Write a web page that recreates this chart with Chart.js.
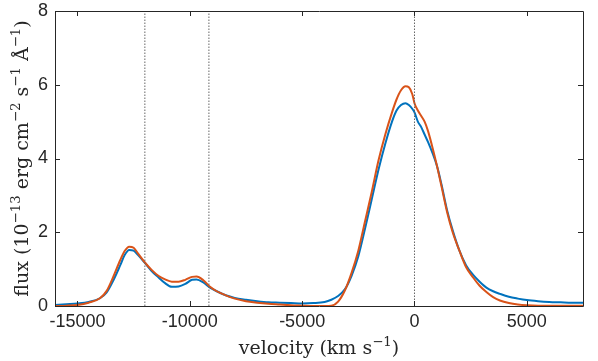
<!DOCTYPE html>
<html><head><meta charset="utf-8">
<script src="https://cdn.jsdelivr.net/npm/chart.js@4/dist/chart.umd.min.js"></script>
<style>html,body{margin:0;padding:0;background:#fff;}#wrap{width:598px;height:361px;position:relative;}</style>
</head><body><div id="wrap"><canvas id="c" width="598" height="361"></canvas></div>
<script>
const velocity = [-16000,-15500,-15000,-14500,-14000,-13700,-13400,-13100,-12900,-12700,-12500,-12300,-12000,-11700,-11400,-11100,-10800,-10500,-10200,-9900,-9700,-9400,-9100,-8800,-8400,-8000,-7500,-7000,-6500,-6000,-5500,-5000,-4500,-4000,-3700,-3400,-3100,-2800,-2500,-2200,-1900,-1600,-1300,-1000,-800,-600,-400,-250,-100,0,150,300,450,600,800,1000,1200,1450,1700,2000,2300,2600,2900,3200,3500,3800,4200,4600,5000,5500,6000,6500,7000,7500];
const fluxBlue = [0.03,0.05,0.07,0.11,0.21,0.37,0.7,1.1,1.38,1.52,1.5,1.38,1.17,0.95,0.78,0.62,0.52,0.53,0.6,0.71,0.72,0.64,0.5,0.4,0.29,0.22,0.17,0.13,0.1,0.09,0.08,0.07,0.08,0.11,0.17,0.27,0.45,0.82,1.35,2.1,2.9,3.7,4.4,5.0,5.3,5.45,5.5,5.45,5.35,5.25,5.0,4.85,4.65,4.45,4.15,3.8,3.3,2.6,2.05,1.5,1.1,0.85,0.66,0.5,0.4,0.33,0.25,0.2,0.16,0.13,0.11,0.1,0.09,0.09];
const fluxOrange = [0.0,0.01,0.03,0.09,0.21,0.41,0.8,1.24,1.49,1.61,1.58,1.42,1.18,0.98,0.82,0.72,0.66,0.66,0.71,0.79,0.8,0.7,0.52,0.4,0.29,0.2,0.13,0.09,0.06,0.04,0.02,0.01,0.0,0.0,0.01,0.12,0.42,0.9,1.5,2.3,3.1,3.95,4.65,5.25,5.6,5.85,5.96,5.93,5.75,5.5,5.3,5.15,5.0,4.75,4.3,3.8,3.25,2.55,2.0,1.5,1.05,0.78,0.55,0.38,0.24,0.15,0.08,0.04,0.02,0.01,0.01,0.01,0.01,0.01];
const markerVelocities = [-12000, -9150, 0];
const xTickValues = [-15000, -10000, -5000, 0, 5000];
const yTickValues = [0, 2, 4, 6, 8];
const xRange = [-16000, 7500];
const yRange = [0, 8];

const AXIS_COLOR = '#262626';
const toPts = (xs, ys) => xs.map((x, i) => ({x: x, y: ys[i]}));

const markerSets = markerVelocities.map(v => ({
  data: [{x: v, y: yRange[0]}, {x: v, y: yRange[1]}],
  borderColor: '#666666', borderWidth: 1, borderDash: [1.5, 1.5],
  pointRadius: 0, fill: false, order: 1, tension: 0
}));

function renderRich(ctx, parts, size, family, cx, cy) {
  const widths = parts.map(p => {
    ctx.font = (p.sup ? size * 0.7 : size) + 'px ' + family;
    return ctx.measureText(p.t).width;
  });
  const total = widths.reduce((a, b) => a + b, 0);
  let x = cx - total / 2;
  ctx.textBaseline = 'alphabetic';
  ctx.textAlign = 'left';
  parts.forEach((p, i) => {
    ctx.font = (p.sup ? size * 0.7 : size) + 'px ' + family;
    ctx.fillText(p.t, x, p.sup ? cy - size * 0.42 : cy);
    x += widths[i];
  });
}

const framePlugin = {
  id: 'frame',
  afterDatasetsDraw(chart) {
    const {ctx, chartArea: a, scales} = chart;
    ctx.save();
    ctx.strokeStyle = AXIS_COLOR;
    ctx.lineWidth = 1;
    ctx.beginPath();
    ctx.rect(Math.round(a.left) + 0.5, Math.round(a.top) + 0.5, Math.round(a.right - a.left), Math.round(a.bottom - a.top));
    ctx.stroke();
    const tl = 5;
    ctx.beginPath();
    xTickValues.forEach(v => {
      const px = Math.round(scales.x.getPixelForValue(v)) + 0.5;
      ctx.moveTo(px, a.bottom); ctx.lineTo(px, a.bottom - tl);
      ctx.moveTo(px, a.top); ctx.lineTo(px, a.top + tl);
    });
    yTickValues.forEach(v => {
      const py = Math.round(scales.y.getPixelForValue(v)) + 0.5;
      ctx.moveTo(a.left, py); ctx.lineTo(a.left + tl, py);
      ctx.moveTo(a.right, py); ctx.lineTo(a.right - tl, py);
    });
    ctx.stroke();
    ctx.restore();
  },
  afterDraw(chart) {
    const {ctx, chartArea: a} = chart;
    ctx.save();
    ctx.fillStyle = AXIS_COLOR;
    const fam = '"DejaVu Serif", serif';
    renderRich(ctx, [{t: 'velocity (km s'}, {t: '\u22121', sup: true}, {t: ')'}], 19, fam, (a.left + a.right) / 2, 354);
    ctx.translate(28, (a.top + a.bottom) / 2);
    ctx.rotate(-Math.PI / 2);
    renderRich(ctx, [
      {t: 'flux (10'}, {t: '\u221213', sup: true}, {t: ' erg cm'}, {t: '\u22122', sup: true},
      {t: ' s'}, {t: '\u22121', sup: true}, {t: ' \u00C5'}, {t: '\u22121', sup: true}, {t: ')'}
    ], 19, fam, 0, 0);
    ctx.restore();
  }
};

new Chart(document.getElementById('c'), {
  type: 'line',
  data: {
    datasets: [
      {data: toPts(velocity, fluxBlue), borderColor: '#0072BD', borderWidth: 2, pointRadius: 0, fill: false, cubicInterpolationMode: 'monotone', order: 3},
      {data: toPts(velocity, fluxOrange), borderColor: '#D95319', borderWidth: 2, pointRadius: 0, fill: false, cubicInterpolationMode: 'monotone', order: 2},
      ...markerSets
    ]
  },
  options: {
    responsive: false, animation: false, devicePixelRatio: 1,
    layout: {padding: {top: 11, right: 15, left: 0, bottom: 0}},
    plugins: {legend: {display: false}, tooltip: {enabled: false}},
    scales: {
      x: {
        type: 'linear', min: xRange[0], max: xRange[1],
        afterBuildTicks: s => { s.ticks = xTickValues.map(v => ({value: v})); },
        afterFit: s => { s.height = 55; s.paddingLeft = 0; s.paddingRight = 0; },
        grid: {display: false, drawTicks: false}, border: {display: false},
        ticks: {color: AXIS_COLOR, font: {family: '"Liberation Sans", Arial, sans-serif', size: 18}, padding: 5, maxRotation: 0, autoSkip: false, callback: v => String(v)}
      },
      y: {
        type: 'linear', min: yRange[0], max: yRange[1],
        afterBuildTicks: s => { s.ticks = yTickValues.map(v => ({value: v})); },
        afterFit: s => { s.width = 55; s.paddingTop = 0; s.paddingBottom = 0; },
        grid: {display: false, drawTicks: false}, border: {display: false},
        ticks: {color: AXIS_COLOR, font: {family: '"Liberation Sans", Arial, sans-serif', size: 18}, padding: 7, callback: v => String(v)}
      }
    }
  },
  plugins: [framePlugin]
});
</script></body></html>
